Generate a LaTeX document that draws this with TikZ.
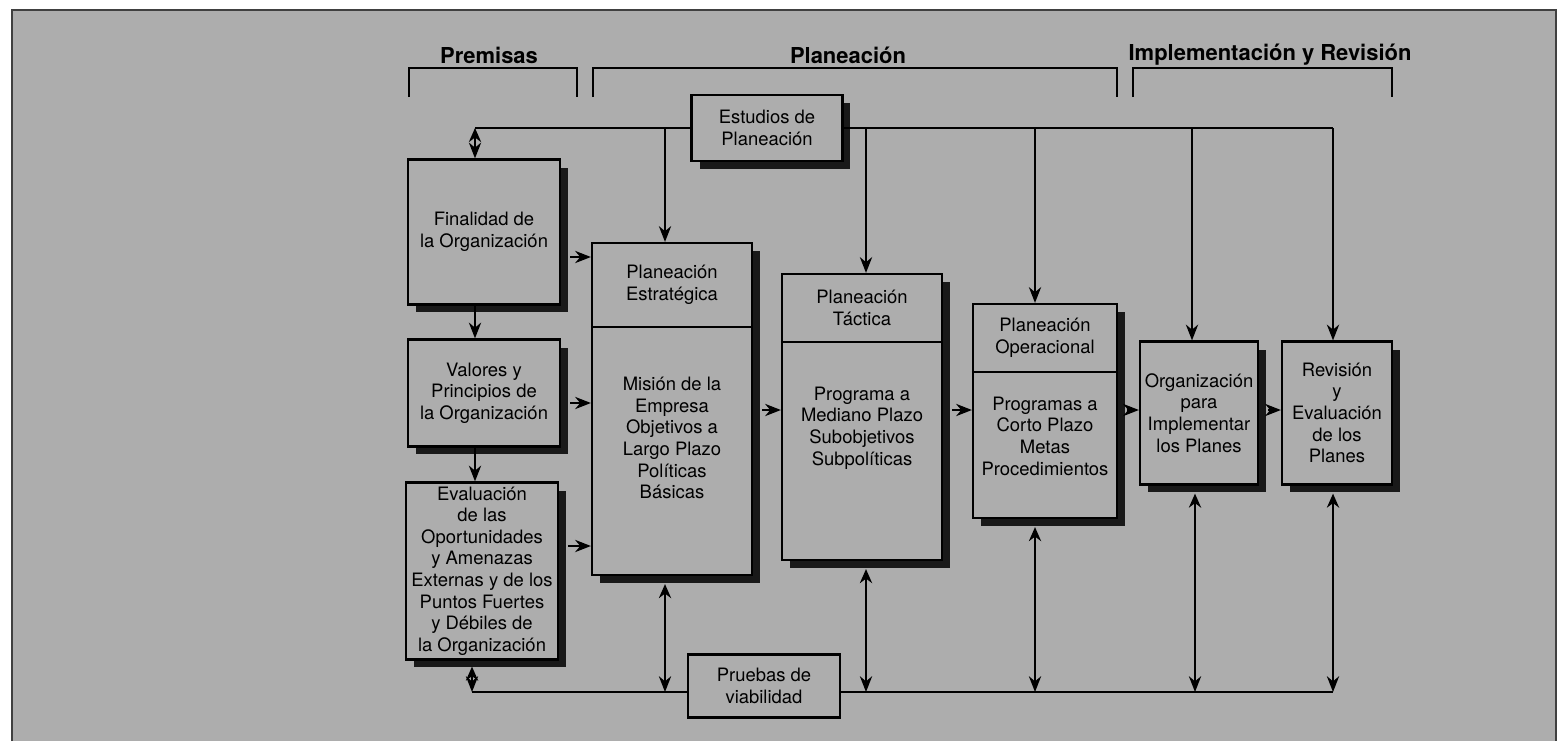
\documentclass[tikz,border=0pt]{standalone}
\usepackage{fontspec}
\setmainfont{TeX Gyre Heros}
\usetikzlibrary{arrows.meta,shadows}
\definecolor{bg}{gray}{0.68}

\begin{document}
\begin{tikzpicture}[
    x=0.02cm, y=-0.02cm,
    box/.style={draw, line width=1.3pt, fill=bg, align=center, inner sep=1pt,
        font=\fontsize{10.5}{12.3}\selectfont,
        drop shadow={shadow xshift=0.16cm, shadow yshift=-0.16cm, fill=black!90, opacity=1}},
    flatbox/.style={draw, line width=1.3pt, fill=bg, align=center, inner sep=1pt,
        font=\fontsize{10.5}{12.3}\selectfont},
    txt/.style={align=center, inner sep=0pt, font=\fontsize{10.5}{12.3}\selectfont},
    head/.style={font=\fontsize{12.5}{14}\selectfont\bfseries},
    bracket/.style={line width=1.2pt},
    rule/.style={line width=1pt},
    arr/.style={-{Stealth[length=9pt, width=7pt]}, line width=1pt},
    dblarr/.style={{Stealth[length=8pt, width=7pt]}-{Stealth[length=9pt, width=7pt]}, line width=1pt}
]

% ---------- Background ----------
\useasboundingbox (0,0) rectangle (1562,741);
\fill[bg] (12,10) rectangle (1556,741);
\draw[black!75, line width=0.8pt] (12,741) -- (12,10) -- (1556,10) -- (1556,741);

% ---------- Headers ----------
\node[head] (hprem) at (489,55) {Premisas};
\node[head] (hplan) at (848,55) {Planeación};
\node[head] (himpl) at (1270,55) {Implementación y Revisión};

\draw[bracket] (409,97) -- (409,68) -- (577,68) -- (577,97);
\draw[bracket] (593,97) -- (593,68) -- (1117,68) -- (1117,97);
\draw[bracket] (1133,97) -- (1133,68) -- (1392,68) -- (1392,97);

% ---------- Premises ----------
\node[box, minimum width=3.04cm, minimum height=2.9cm] (fin) at (484,232)
    {Finalidad de\\la Organización};
\node[box, minimum width=3.04cm, minimum height=2.14cm] (val) at (484,393)
    {Valores y\\Principios de\\la Organización};
\node[box, minimum width=3.04cm, minimum height=3.54cm] (eva) at (482,571)
    {Evaluación\\de las\\Oportunidades\\y Amenazas\\Externas y de los\\Puntos Fuertes\\y Débiles de\\la Organización};

% ---------- Planning ----------
\node[box, minimum width=3.2cm, minimum height=6.64cm] (estr) at (672,409) {};
\draw[rule] (estr.west |- 0,327) -- (estr.east |- 0,327);
\node[txt] (estrh) at (672,285) {Planeación\\Estratégica};
\node[txt] (estrb) at (672,438) {Misión de la\\Empresa\\Objetivos a\\Largo Plazo\\Políticas\\Básicas};

\node[box, minimum width=3.2cm, minimum height=5.72cm] (tact) at (862,417) {};
\draw[rule] (tact.west |- 0,342) -- (tact.east |- 0,342);
\node[txt] (tacth) at (862,308) {Planeación\\Táctica};
\node[txt] (tactb) at (862,428) {Programa a\\Mediano Plazo\\Subobjetivos\\Subpolíticas};

\node[box, minimum width=2.88cm, minimum height=4.28cm] (oper) at (1045,411) {};
\draw[rule] (oper.west |- 0,372) -- (oper.east |- 0,372);
\node[txt] (operh) at (1045,338) {Planeación\\Operacional};
\node[txt] (operb) at (1045,436) {Programas a\\Corto Plazo\\Metas\\Procedimientos};

% ---------- Implementation and review ----------
\node[box, minimum width=2.36cm, minimum height=2.86cm] (org) at (1199,413)
    {Organización\\para\\Implementar\\los Planes};
\node[box, minimum width=2.2cm, minimum height=2.86cm] (rev) at (1337,413)
    {Revisión\\y\\Evaluación\\de los\\Planes};

% ---------- Studies and tests ----------
\node[box, minimum width=3.02cm, minimum height=1.32cm] (estud) at (767,128)
    {Estudios de\\Planeación};
\node[flatbox, minimum width=3.04cm, minimum height=1.26cm] (prueb) at (764,686)
    {Pruebas de\\viabilidad};

% ---------- Top distribution line ----------
\coordinate (tF) at (475,128);
\coordinate (tE) at (665,128);
\coordinate (tT) at (866,128);
\coordinate (tO) at (1035,128);
\coordinate (tG) at (1192,128);
\coordinate (tR) at (1333,128);

\draw[rule] (estud.west) -- (tF);
\draw[rule] (estud.east) -- (tR);
\draw[dblarr] (tF) -- (tF |- fin.north);
\draw[arr] (tE) -- (tE |- estr.north);
\draw[arr] (tT) -- (tT |- tact.north);
\draw[arr] (tO) -- (tO |- oper.north);
\draw[arr] (tG) -- (tG |- org.north);
\draw[arr] (tR) -- (tR |- rev.north);

% ---------- Flow between boxes ----------
\draw[arr] (fin.south -| tF) -- (val.north -| tF);
\draw[arr] (val.south -| tF) -- (eva.north -| tF);

\draw[arr, shorten <=0.18cm] (fin.east |- 0,257) -- (estr.west |- 0,257);
\draw[arr, shorten <=0.18cm] (val.east |- 0,403) -- (estr.west |- 0,403);
\draw[arr, shorten <=0.18cm] (eva.east |- 0,546) -- (estr.west |- 0,546);

\draw[arr, shorten <=0.18cm] (estr.east |- 0,410) -- (tact.west |- 0,410);
\draw[arr, shorten <=0.18cm] (tact.east |- 0,410) -- (oper.west |- 0,410);
\draw[arr, shorten <=0.18cm] (oper.east |- 0,410) -- (org.west |- 0,410);
\draw[arr, shorten <=0.18cm] (org.east |- 0,410) -- (rev.west |- 0,410);

% ---------- Bottom feedback line ----------
\coordinate (bF) at (472,692);
\coordinate (bE) at (665,692);
\coordinate (bT) at (866,692);
\coordinate (bO) at (1035,692);
\coordinate (bG) at (1195,692);
\coordinate (bR) at (1333,692);

\draw[rule] (bF) -- (prueb.west |- bF);
\draw[rule] (prueb.east |- bF) -- (bR);
\draw[dblarr, shorten <=0.12cm] (bF |- eva.south) -- (bF);
\draw[dblarr, shorten <=0.16cm] (bE |- estr.south) -- (bE);
\draw[dblarr, shorten <=0.16cm] (bT |- tact.south) -- (bT);
\draw[dblarr, shorten <=0.16cm] (bO |- oper.south) -- (bO);
\draw[dblarr, shorten <=0.16cm] (bG |- org.south) -- (bG);
\draw[dblarr, shorten <=0.16cm] (bR |- rev.south) -- (bR);

\end{tikzpicture}
\end{document}
